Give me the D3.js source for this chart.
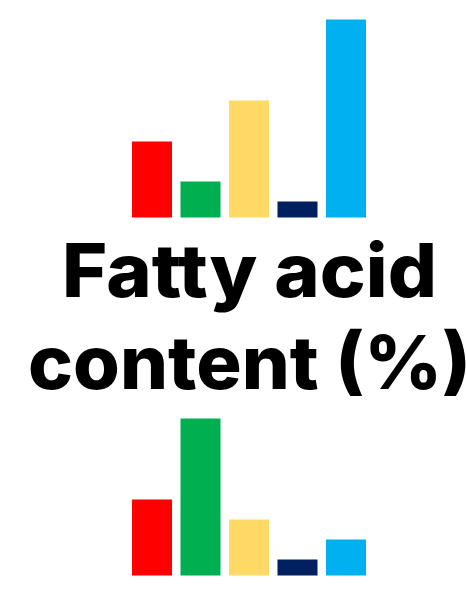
<!DOCTYPE html>
<html>
<head>
<meta charset="utf-8">
<script src="https://cdn.jsdelivr.net/npm/d3@7"></script>
<style>
  html, body { margin: 0; padding: 0; background: #fff; }
  svg { display: block; }
</style>
</head>
<body>
<div id="chart"></div>
<script>
const categories = ['A', 'B', 'C', 'D', 'E']
const colors = ['#FF0000', '#00B050', '#FFD966', '#002060', '#00B0F0']
const topValues = [19, 9, 29.25, 4, 49.5]
const bottomValues = [19, 39.25, 14, 4, 9]
const titleLines = ['Fatty acid', 'content (%)']

const width = 466
const height = 600

const svg = d3.select('#chart').append('svg')
    .attr('width', width)
    .attr('height', height)

const x = d3.scaleBand()
    .domain(categories)
    .range([132, 366])
    .paddingInner(0.175)
    .paddingOuter(0)

const y = d3.scaleLinear()
    .domain([0, 50])
    .range([200, 0])

function drawBars(values, offsetY) {
    const g = svg.append('g')
        .attr('transform', 'translate(0,' + offsetY + ')')
    g.selectAll('rect')
        .data(values)
        .enter()
        .append('rect')
        .attr('x', (d, i) => x(categories[i]))
        .attr('y', d => y(d))
        .attr('width', x.bandwidth())
        .attr('height', d => y(0) - y(d))
        .style('fill', (d, i) => colors[i])
}

drawBars(topValues, 17.5)
drawBars(bottomValues, 375.5)

// title, stretched to the width it takes in the original
const title = svg.append('g')
    .style('font-family', 'Inter, "DejaVu Sans", sans-serif')
    .style('font-weight', 800)
    .style('font-size', '74px')
    .attr('fill', '#000')

title.append('text')
    .attr('x', 62)
    .attr('y', 297)
    .attr('textLength', 375)
    .attr('lengthAdjust', 'spacingAndGlyphs')
    .text(titleLines[0])

title.append('text')
    .attr('x', 28)
    .attr('y', 389)
    .attr('textLength', 443)
    .attr('lengthAdjust', 'spacingAndGlyphs')
    .text(titleLines[1])
</script>
</body>
</html>
